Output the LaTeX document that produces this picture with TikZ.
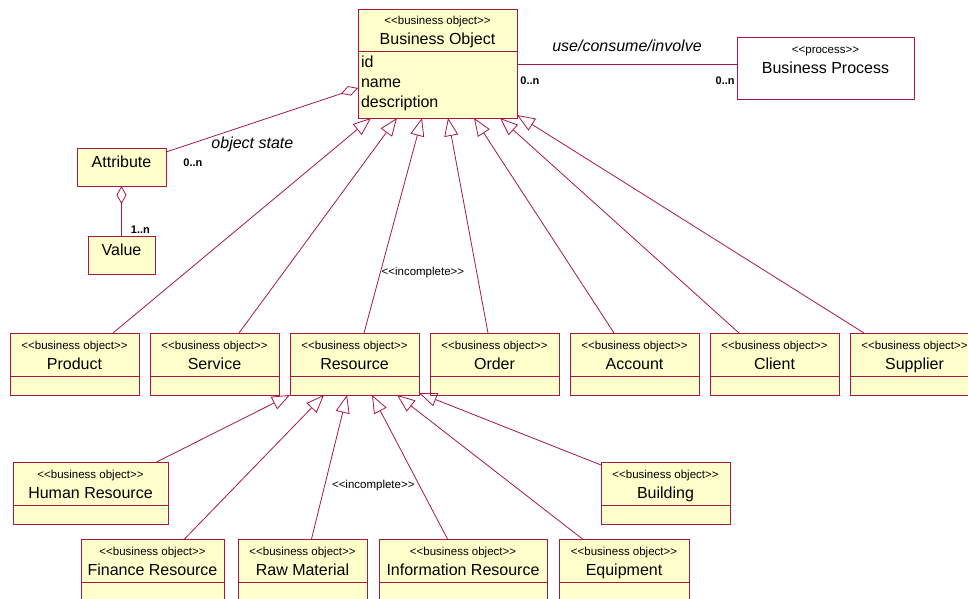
\documentclass[tikz,border=0pt]{standalone}
\usepackage{fontspec}
\setmainfont{Liberation Sans}[Ligatures=TeXOff]
\usetikzlibrary{arrows.meta, positioning}
\definecolor{umlred}{RGB}{168,22,72}
\definecolor{umlyellow}{RGB}{255,255,204}
\newcommand{\stype}[1]{{\fontsize{11.5}{20}\selectfont\rule[-3pt]{0pt}{16pt}<<#1>>}}
\newcommand{\cname}[1]{#1\rule[-4pt]{0pt}{0pt}}
\tikzstyle{head} = [rectangle, draw=umlred, fill=umlyellow, line width=0.9pt, minimum width=129pt, minimum height=43pt, inner sep=0pt, outer sep=0pt, align=center, font=\fontsize{16}{20}\selectfont]
\tikzstyle{comp} = [rectangle, draw=umlred, fill=umlyellow, line width=0.9pt, minimum width=129pt, minimum height=19pt, inner sep=0pt, outer sep=0pt]
\tikzstyle{plainbox} = [rectangle, draw=umlred, fill=umlyellow, line width=0.9pt, minimum height=38pt, inner sep=0pt, outer sep=0pt, text height=11.5pt, text depth=11.5pt, font=\fontsize{16}{20}\selectfont]
\tikzstyle{procbox} = [rectangle, draw=umlred, fill=white, line width=0.9pt, minimum width=177pt, minimum height=62pt, inner sep=0pt, outer sep=0pt, align=center, font=\fontsize{16}{20}\selectfont]
\tikzstyle{gen} = [draw=umlred, line width=0.8pt, -{Triangle[open, length=18pt, width=14pt]}]
\tikzstyle{aggr} = [draw=umlred, line width=0.8pt, -{Diamond[open, length=18pt, width=10pt]}]
\tikzstyle{assoc} = [draw=umlred, line width=0.8pt]
\tikzstyle{mult} = [font=\fontsize{11}{13}\selectfont\bfseries, inner sep=1pt]
\tikzstyle{role} = [font=\fontsize{16}{20}\selectfont\itshape, inner sep=1pt]
\tikzstyle{note} = [font=\fontsize{11.5}{14}\selectfont, inner sep=1pt]

\begin{document}
\begin{tikzpicture}[x=1pt, y=-1pt]
\useasboundingbox (0,0) rectangle (968,598);
\clip (0,0) rectangle (968,598);

\node (bo) [head, minimum width=159pt, minimum height=42pt] at (437.5,30) {\stype{business object}\\\cname{Business Object}};
\node (boattr) [comp, below=0pt of bo, minimum width=159pt, minimum height=67pt, text width=153pt, align=left, inner xsep=3pt, font=\fontsize{16}{20.3}\selectfont] {id\\name\\description\rule[-6pt]{0pt}{0pt}};
\node (bp) [procbox] at (825.5,68) {\stype{process}\\\cname{Business Process}\rule[-23pt]{0pt}{0pt}};
\node (attribute) [plainbox, minimum width=89pt] at (121.5,167) {Attribute};
\node (value) [plainbox, minimum width=67pt] at (121.5,255) {Value};

% first level
\node (product) [head] at (74.5,354.5) {\stype{business object}\\\cname{Product}};
\node (service) [head, right=11pt of product] {\stype{business object}\\\cname{Service}};
\node (resource) [head, right=11pt of service] {\stype{business object}\\\cname{Resource}};
\node (order) [head, right=11pt of resource] {\stype{business object}\\\cname{Order}};
\node (account) [head, right=11pt of order] {\stype{business object}\\\cname{Account}};
\node (client) [head, right=11pt of account] {\stype{business object}\\\cname{Client}};
\node (supplier) [head, right=11pt of client] {\stype{business object}\\\cname{Supplier}};
\node (productc) [comp, below=0pt of product] {};
\node (servicec) [comp, below=0pt of service] {};
\node (resourcec) [comp, below=0pt of resource] {};
\node (orderc) [comp, below=0pt of order] {};
\node (accountc) [comp, below=0pt of account] {};
\node (clientc) [comp, below=0pt of client] {};
\node (supplierc) [comp, below=0pt of supplier] {};

% resources
\node (human) [head, minimum width=155pt] at (90.5,483.5) {\stype{business object}\\\cname{Human Resource}};
\node (building) [head] at (665.5,483.5) {\stype{business object}\\\cname{Building}};
\node (finance) [head, minimum width=143pt] at (152.5,560.5) {\stype{business object}\\\cname{Finance Resource}};
\node (raw) [head, right=14pt of finance] {\stype{business object}\\\cname{Raw Material}};
\node (info) [head, minimum width=168pt, right=12pt of raw] {\stype{business object}\\\cname{Information Resource}};
\node (equipment) [head, minimum width=130pt, right=12pt of info] {\stype{business object}\\\cname{Equipment}};
\node (humanc) [comp, minimum width=155pt, below=0pt of human] {};
\node (buildingc) [comp, below=0pt of building] {};
\node (financec) [comp, minimum width=143pt, below=0pt of finance] {};
\node (rawc) [comp, below=0pt of raw] {};
\node (infoc) [comp, minimum width=168pt, below=0pt of info] {};
\node (equipmentc) [comp, minimum width=130pt, below=0pt of equipment] {};

\draw [assoc] ([yshift=-13pt]boattr.north east) -- node [role, above=11pt] {use/consume/involve} node [mult, pos=0, anchor=north west, xshift=2pt, yshift=-11pt] {0..n} node [mult, pos=1, anchor=north east, xshift=-1pt, yshift=-11pt] {0..n} ([yshift=-27pt]bp.north west);
\draw [aggr] ([yshift=-4pt]attribute.north east) -- node [role, pos=0.45, below=12pt] {object state} node [mult, pos=0, anchor=north west, xshift=16pt, yshift=-5pt] {0..n} ([yshift=-37pt]boattr.north west);
\draw [aggr] (value.north) -- node [mult, pos=0, anchor=south west, xshift=8pt, yshift=1pt] {1..n} (attribute.south);

\draw [gen] ([xshift=38.5pt]product.north) -- ([xshift=-66.5pt]boattr.south);
\draw [gen] ([xshift=24.5pt]service.north) -- ([xshift=-40.5pt]boattr.south);
\draw [gen] ([xshift=9.5pt]resource.north) -- node [note, pos=0.28, anchor=west] {<<incomplete>>} ([xshift=-15.5pt]boattr.south);
\draw [gen] ([xshift=-6.5pt]order.north) -- ([xshift=10.5pt]boattr.south);
\draw [gen] ([xshift=-20.5pt]account.north) -- ([xshift=36.5pt]boattr.south);
\draw [gen] ([xshift=-35.5pt]client.north) -- ([xshift=62.5pt]boattr.south);
\draw [gen] ([xshift=-50.5pt]supplier.north) -- ([yshift=3pt]boattr.south east);

\draw [gen] ([xshift=66pt]human.north) -- (resourcec.south west);
\draw [gen] ([xshift=32pt]finance.north) -- ([xshift=-30.5pt]resourcec.south);
\draw [gen] ([xshift=9pt]raw.north) -- node [note, pos=0.37, anchor=west, xshift=6pt] {<<incomplete>>} ([xshift=-7.5pt]resourcec.south);
\draw [gen] ([xshift=-15.5pt]info.north) -- ([xshift=17.5pt]resourcec.south);
\draw [gen] ([xshift=-41.5pt]equipment.north) -- ([xshift=42.5pt]resourcec.south);
\draw [gen] ([yshift=-3pt]building.north west) -- ([yshift=2pt]resourcec.south east);

\end{tikzpicture}
\end{document}
